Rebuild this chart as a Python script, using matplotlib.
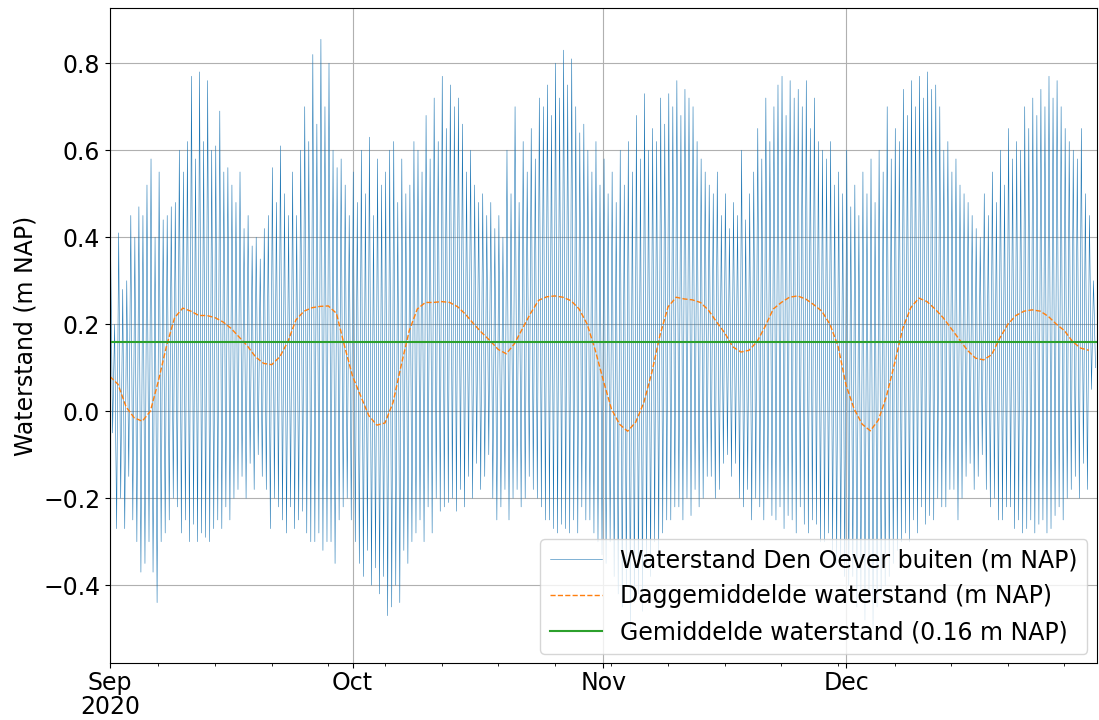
import numpy as np
import pandas as pd
import matplotlib
matplotlib.use("Agg")
import matplotlib.pyplot as plt
import matplotlib.dates as mdates
from matplotlib.ticker import FuncFormatter

# high waters, two per day (m NAP), Sep 1 .. Dec 31 2020
hw_sep = [0.38, 0.20, 0.41, 0.28, 0.30, 0.45, 0.40, 0.47, 0.45, 0.52,
          0.58, 0.40, 0.55, 0.44, 0.45, 0.47, 0.48, 0.60, 0.55, 0.62,
          0.77, 0.58, 0.78, 0.62, 0.76, 0.60, 0.61, 0.69, 0.55, 0.56,
          0.52, 0.48, 0.55, 0.42, 0.45, 0.38, 0.40, 0.35, 0.42, 0.45,
          0.56, 0.48, 0.61, 0.50, 0.45, 0.55, 0.45, 0.60, 0.70, 0.62,
          0.82, 0.66, 0.855, 0.70, 0.80, 0.60, 0.56, 0.58, 0.52, 0.45]
hw_oct = [0.55, 0.48, 0.60, 0.50, 0.63, 0.45, 0.58, 0.52, 0.55, 0.60,
          0.62, 0.48, 0.58, 0.50, 0.52, 0.62, 0.60, 0.55, 0.68, 0.58,
          0.72, 0.62, 0.77, 0.65, 0.75, 0.70, 0.72, 0.66, 0.55, 0.60,
          0.52, 0.48, 0.50, 0.45, 0.48, 0.42, 0.45, 0.40, 0.60, 0.50,
          0.70, 0.48, 0.62, 0.55, 0.65, 0.58, 0.72, 0.70, 0.75, 0.68,
          0.80, 0.72, 0.83, 0.75, 0.81, 0.70, 0.64, 0.66, 0.60, 0.55,
          0.62, 0.52]
hw_nov = [0.58, 0.50, 0.55, 0.48, 0.60, 0.52, 0.62, 0.55, 0.68, 0.58,
          0.73, 0.60, 0.65, 0.62, 0.72, 0.66, 0.73, 0.70, 0.76, 0.68,
          0.74, 0.72, 0.70, 0.62, 0.58, 0.55, 0.52, 0.50, 0.55, 0.45,
          0.50, 0.42, 0.48, 0.45, 0.60, 0.44, 0.50, 0.55, 0.65, 0.58,
          0.72, 0.62, 0.70, 0.75, 0.77, 0.68, 0.76, 0.72, 0.74, 0.70,
          0.76, 0.65, 0.72, 0.62, 0.60, 0.58, 0.62, 0.52, 0.55, 0.50]
hw_dec = [0.60, 0.47, 0.52, 0.45, 0.55, 0.50, 0.58, 0.48, 0.60, 0.55,
          0.70, 0.58, 0.65, 0.62, 0.74, 0.68, 0.76, 0.70, 0.77, 0.72,
          0.78, 0.74, 0.75, 0.70, 0.60, 0.62, 0.55, 0.58, 0.52, 0.50,
          0.48, 0.45, 0.42, 0.40, 0.50, 0.45, 0.55, 0.48, 0.60, 0.52,
          0.65, 0.58, 0.62, 0.60, 0.70, 0.65, 0.72, 0.68, 0.74, 0.70,
          0.77, 0.72, 0.76, 0.70, 0.65, 0.62, 0.60, 0.58, 0.65, 0.50,
          0.45, 0.30]

# low waters, two per day (m NAP)
lw_sep = [-0.05, -0.27, -0.20, -0.27, -0.15, -0.25, -0.30, -0.37, -0.35, -0.30,
          -0.37, -0.44, -0.30, -0.28, -0.25, -0.20, -0.22, -0.28, -0.25, -0.30,
          -0.26, -0.30, -0.28, -0.29, -0.30, -0.27, -0.25, -0.27, -0.22, -0.25,
          -0.20, -0.18, -0.15, -0.20, -0.12, -0.18, -0.10, -0.15, -0.18, -0.27,
          -0.20, -0.22, -0.25, -0.28, -0.22, -0.27, -0.25, -0.23, -0.28, -0.30,
          -0.30, -0.28, -0.32, -0.30, -0.30, -0.35, -0.25, -0.22, -0.20, -0.25]
lw_oct = [-0.30, -0.35, -0.38, -0.32, -0.40, -0.36, -0.42, -0.38, -0.47, -0.45,
          -0.40, -0.44, -0.32, -0.35, -0.30, -0.28, -0.25, -0.30, -0.22, -0.28,
          -0.20, -0.23, -0.22, -0.21, -0.20, -0.23, -0.18, -0.22, -0.15, -0.20,
          -0.12, -0.18, -0.15, -0.10, -0.20, -0.25, -0.22, -0.18, -0.25, -0.20,
          -0.18, -0.22, -0.20, -0.15, -0.18, -0.20, -0.22, -0.25, -0.25, -0.27,
          -0.28, -0.26, -0.27, -0.28, -0.25, -0.28, -0.22, -0.25, -0.25, -0.28,
          -0.30, -0.33]
lw_nov = [-0.35, -0.30, -0.38, -0.42, -0.45, -0.40, -0.50, -0.44, -0.42, -0.46,
          -0.35, -0.38, -0.30, -0.33, -0.28, -0.25, -0.25, -0.22, -0.22, -0.25,
          -0.20, -0.24, -0.18, -0.22, -0.20, -0.15, -0.15, -0.20, -0.18, -0.12,
          -0.10, -0.15, -0.12, -0.20, -0.22, -0.18, -0.25, -0.20, -0.22, -0.25,
          -0.20, -0.24, -0.25, -0.22, -0.27, -0.24, -0.25, -0.28, -0.22, -0.26,
          -0.28, -0.25, -0.26, -0.30, -0.30, -0.28, -0.32, -0.35, -0.35, -0.38]
lw_dec = [-0.40, -0.38, -0.45, -0.42, -0.48, -0.44, -0.50, -0.45, -0.42, -0.40,
          -0.38, -0.35, -0.32, -0.30, -0.28, -0.30, -0.25, -0.28, -0.22, -0.26,
          -0.24, -0.25, -0.20, -0.22, -0.22, -0.18, -0.18, -0.25, -0.20, -0.15,
          -0.12, -0.18, -0.15, -0.10, -0.18, -0.22, -0.20, -0.25, -0.25, -0.22,
          -0.22, -0.27, -0.25, -0.28, -0.27, -0.25, -0.28, -0.26, -0.25, -0.28,
          -0.27, -0.24, -0.22, -0.25, -0.20, -0.18, -0.15, -0.20, -0.12, -0.18,
          0.05, 0.10]

# daily mean water level (m NAP), one value per day
daily_mean = [0.080, 0.062, 0.010, -0.015, -0.023, 0.000, 0.070, 0.150, 0.215, 0.237,
              0.230, 0.220, 0.220, 0.215, 0.205, 0.190, 0.170, 0.150, 0.125, 0.110,
              0.107, 0.125, 0.160, 0.210, 0.230, 0.238, 0.241, 0.242, 0.225, 0.150,
              0.080, 0.035, -0.010, -0.032, -0.027, 0.020, 0.105, 0.185, 0.235, 0.250,
              0.250, 0.252, 0.250, 0.240, 0.222, 0.200, 0.180, 0.162, 0.142, 0.132,
              0.155, 0.190, 0.225, 0.255, 0.263, 0.265, 0.262, 0.254, 0.235, 0.200,
              0.140, 0.070, 0.005, -0.030, -0.046, -0.025, 0.020, 0.090, 0.175, 0.240,
              0.262, 0.258, 0.256, 0.250, 0.232, 0.205, 0.180, 0.148, 0.136, 0.140,
              0.160, 0.195, 0.235, 0.250, 0.262, 0.265, 0.258, 0.245, 0.230, 0.200,
              0.150, 0.060, 0.005, -0.030, -0.045, -0.020, 0.035, 0.110, 0.190, 0.238,
              0.260, 0.252, 0.235, 0.215, 0.190, 0.165, 0.140, 0.122, 0.118, 0.130,
              0.168, 0.200, 0.220, 0.230, 0.233, 0.230, 0.218, 0.200, 0.185, 0.160,
              0.145, 0.140]

mean_level = 0.16

hw = np.array(hw_sep + hw_oct + hw_nov + hw_dec)
lw = np.array(lw_sep + lw_oct + lw_nov + lw_dec)

# interleave: HW, LW, HW, LW ... sampled every 6 hours
tide = np.empty(hw.size + lw.size)
tide[0::2] = hw
tide[1::2] = lw
t_tide = pd.date_range("2020-09-01 02:00", periods=tide.size, freq="6h")
t_day = pd.date_range("2020-09-01", periods=len(daily_mean), freq="D")

plt.rcParams['font.size'] = 17

fig, ax = plt.subplots(figsize=(10.99, 7.2), dpi=100)
fig.subplots_adjust(left=0.100, right=0.998, bottom=0.079, top=0.989)

ax.plot(t_tide, tide, color='#1f77b4', lw=0.4, label='Waterstand Den Oever buiten (m NAP)')
ax.plot(t_day, daily_mean, color='#ff7f0e', lw=1.0, ls='--', label='Daggemiddelde waterstand (m NAP)')
ax.axhline(mean_level, color='#2ca02c', lw=1.5, label='Gemiddelde waterstand (0.16 m NAP)')

ax.set_xlim(pd.Timestamp("2020-09-01"), pd.Timestamp("2020-12-31 23:50"))
ax.set_ylim(-0.579, 0.927)
ax.set_yticks([-0.4, -0.2, 0.0, 0.2, 0.4, 0.6, 0.8])

ax.xaxis.set_major_locator(mdates.MonthLocator())
first = mdates.date2num(pd.Timestamp("2020-09-01"))


def month_fmt(x, pos=None):
    d = mdates.num2date(x)
    if abs(x - first) < 0.5:
        return d.strftime('%b\n%Y')
    return d.strftime('%b')


ax.xaxis.set_major_formatter(FuncFormatter(month_fmt))
ax.xaxis.set_minor_locator(mdates.WeekdayLocator(byweekday=mdates.MO))
ax.xaxis.set_minor_formatter(FuncFormatter(lambda x, pos: ''))
ax.tick_params(axis='x', which='major', pad=2.5)

ax.grid(True, which='major', color='#b0b0b0', lw=0.8)
ax.set_ylabel('Waterstand (m NAP)')
ax.legend(loc='lower right', handlelength=2.2, borderaxespad=0.4)

fig.canvas.draw()
for lab in ax.get_xticklabels():
    lab.set_linespacing(1.0)

fig.savefig('out.png', dpi=100)
